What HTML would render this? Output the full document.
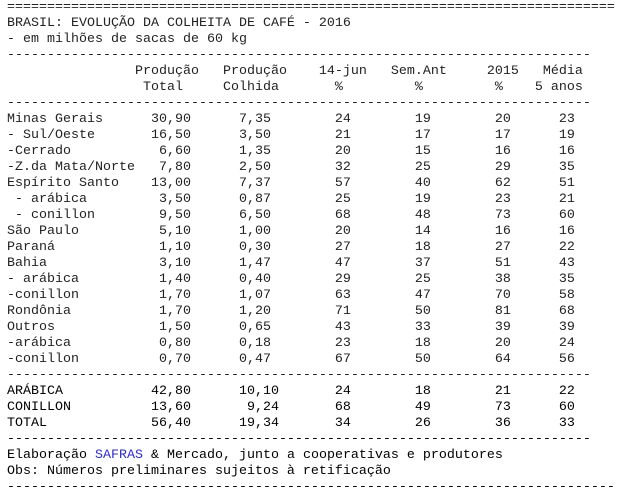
<!DOCTYPE html>
<html>
<head>
<meta charset="utf-8">
<style>
  html, body { margin: 0; padding: 0; background: #ffffff; }
  body { width: 622px; height: 495px; overflow: hidden; position: relative; }
  pre {
    position: absolute;
    left: 7px;
    top: 0;
    margin: 0;
    font-family: "Liberation Mono", "Courier New", monospace;
    font-size: 13.333px;
    line-height: 16px;
    color: #222;
    white-space: pre;
  }
  .b { color: #2b2bd6; }
  .k { color: #000; }
</style>
</head>
<body>
<pre>============================================================================
BRASIL: EVOLUÇÃO DA COLHEITA DE CAFÉ - 2016
- em milhões de sacas de 60 kg
-------------------------------------------------------------------------
                Produção   Produção    14-jun   Sem.Ant     2015   Média
                 Total     Colhida       %         %         %    5 anos
-------------------------------------------------------------------------
Minas Gerais      30,90      7,35        24        19        20      23
- Sul/Oeste       16,50      3,50        21        17        17      19
-Cerrado           6,60      1,35        20        15        16      16
-Z.da Mata/Norte   7,80      2,50        32        25        29      35
Espírito Santo    13,00      7,37        57        40        62      51
 - arábica         3,50      0,87        25        19        23      21
 - conillon        9,50      6,50        68        48        73      60
São Paulo          5,10      1,00        20        14        16      16
Paraná             1,10      0,30        27        18        27      22
Bahia              3,10      1,47        47        37        51      43
- arábica          1,40      0,40        29        25        38      35
-conillon          1,70      1,07        63        47        70      58
Rondônia           1,70      1,20        71        50        81      68
Outros             1,50      0,65        43        33        39      39
-arábica           0,80      0,18        23        18        20      24
-conillon          0,70      0,47        67        50        64      56
-------------------------------------------------------------------------
<span class="k">ARÁBICA           42,80      10,10       24        18        21      22
CONILLON          13,60       9,24       68        49        73      60
TOTAL             56,40      19,34       34        26        36      33
-------------------------------------------------------------------------
Elaboração <span class="b">SAFRAS</span> &amp; Mercado, junto a cooperativas e produtores
Obs: Números preliminares sujeitos à retificação
----------------------------------------------------------------------------</span></pre>
</body>
</html>
